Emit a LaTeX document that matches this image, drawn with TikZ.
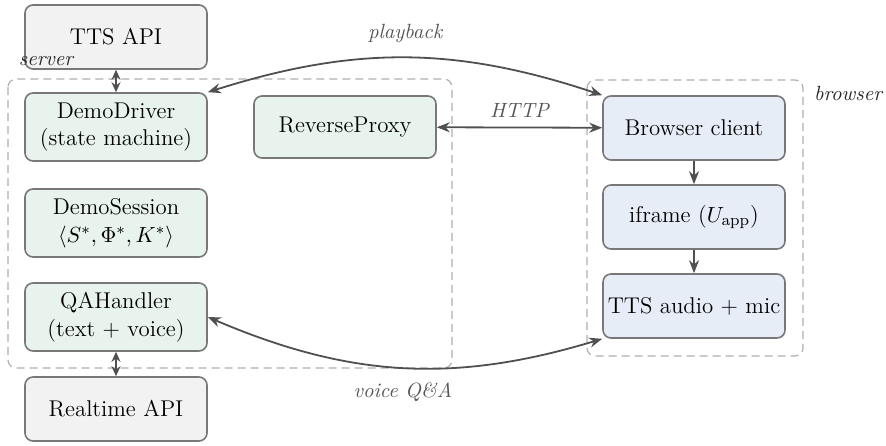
\documentclass[tikz,border=0pt]{standalone}
\usetikzlibrary{arrows.meta}
\definecolor{boxgray}{RGB}{242,242,242}
\definecolor{boxgreen}{RGB}{232,243,237}
\definecolor{boxblue}{RGB}{230,237,246}
\definecolor{bordergray}{RGB}{120,120,120}
\definecolor{arrowgray}{RGB}{80,80,80}
\definecolor{dashgray}{RGB}{175,175,175}
\definecolor{labelgray}{RGB}{85,85,85}
\begin{document}
\begin{tikzpicture}[x=0.5pt,y=-0.5pt,
  font=\fontsize{11.4}{13.8}\selectfont,
  box/.style={draw=bordergray, line width=0.8pt, rounded corners=4pt,
    minimum width=91pt, align=center, inner sep=2pt},
  apibox/.style={box, fill=boxgray, minimum height=32pt},
  srvbox/.style={box, fill=boxgreen, minimum height=34pt},
  brwbox/.style={box, fill=boxblue, minimum height=32pt},
  group/.style={draw=dashgray, line width=0.6pt, dash pattern=on 4pt off 2.5pt, rounded corners=4pt},
  conn/.style={draw=arrowgray, line width=0.9pt, -{Stealth[length=6.5pt,width=5pt]}},
  biconn/.style={draw=arrowgray, line width=0.9pt, {Stealth[length=6.5pt,width=5pt]}-{Stealth[length=6.5pt,width=5pt]}},
  shortbi/.style={draw=arrowgray, line width=0.9pt, {Stealth[length=5pt,width=4.5pt]}-{Stealth[length=5pt,width=4.5pt]}},
  elabel/.style={font=\fontsize{10.3}{12}\selectfont\itshape, text=labelgray},
  glabel/.style={font=\fontsize{10.3}{12}\selectfont\itshape, text=black!85}
]
\useasboundingbox (0,0) rectangle (886,445);

% groups
\draw[group] (8,79) rectangle (452,368);
\draw[group] (587,80) rectangle (803,356);

% nodes
\node[apibox] (tts) at (116,37) {TTS API};
\node[srvbox] (driver) at (116,127) {DemoDriver\\(state machine)};
\node[srvbox] (session) at (116,223) {DemoSession\\$\langle S^*,\Phi^*,K^*\rangle$};
\node[srvbox] (qa) at (116,317) {QAHandler\\(text + voice)};
\node[apibox] (rt) at (116,409) {Realtime API};
\node[srvbox, minimum height=31pt] (proxy) at (345,127) {ReverseProxy};
\node[brwbox] (client) at (694,128) {Browser client};
\node[brwbox] (iframe) at (694,217) {iframe ($U_{\mathrm{app}}$)};
\node[brwbox] (audio) at (694,306) {TTS audio + mic};

\node[glabel] (srvlbl) at (46,61) {server};
\node[glabel] (brwlbl) at (848,93) {browser};

% connectors
\draw[shortbi] (tts) -- (driver);
\draw[shortbi] (qa) -- (rt);
\draw[biconn] (proxy) -- node[elabel, above, yshift=1pt] {HTTP} (client);
\draw[conn] (client) -- (iframe);
\draw[conn] (iframe) -- (audio);
\draw[biconn] (driver.north east) to[bend left=18] node[elabel, above, yshift=4pt] {playback} (client.north west);
\draw[biconn] (qa.east) to[bend right=20] node[elabel, below, yshift=-4pt] {voice Q\&A} (audio.south west);
\end{tikzpicture}
\end{document}
